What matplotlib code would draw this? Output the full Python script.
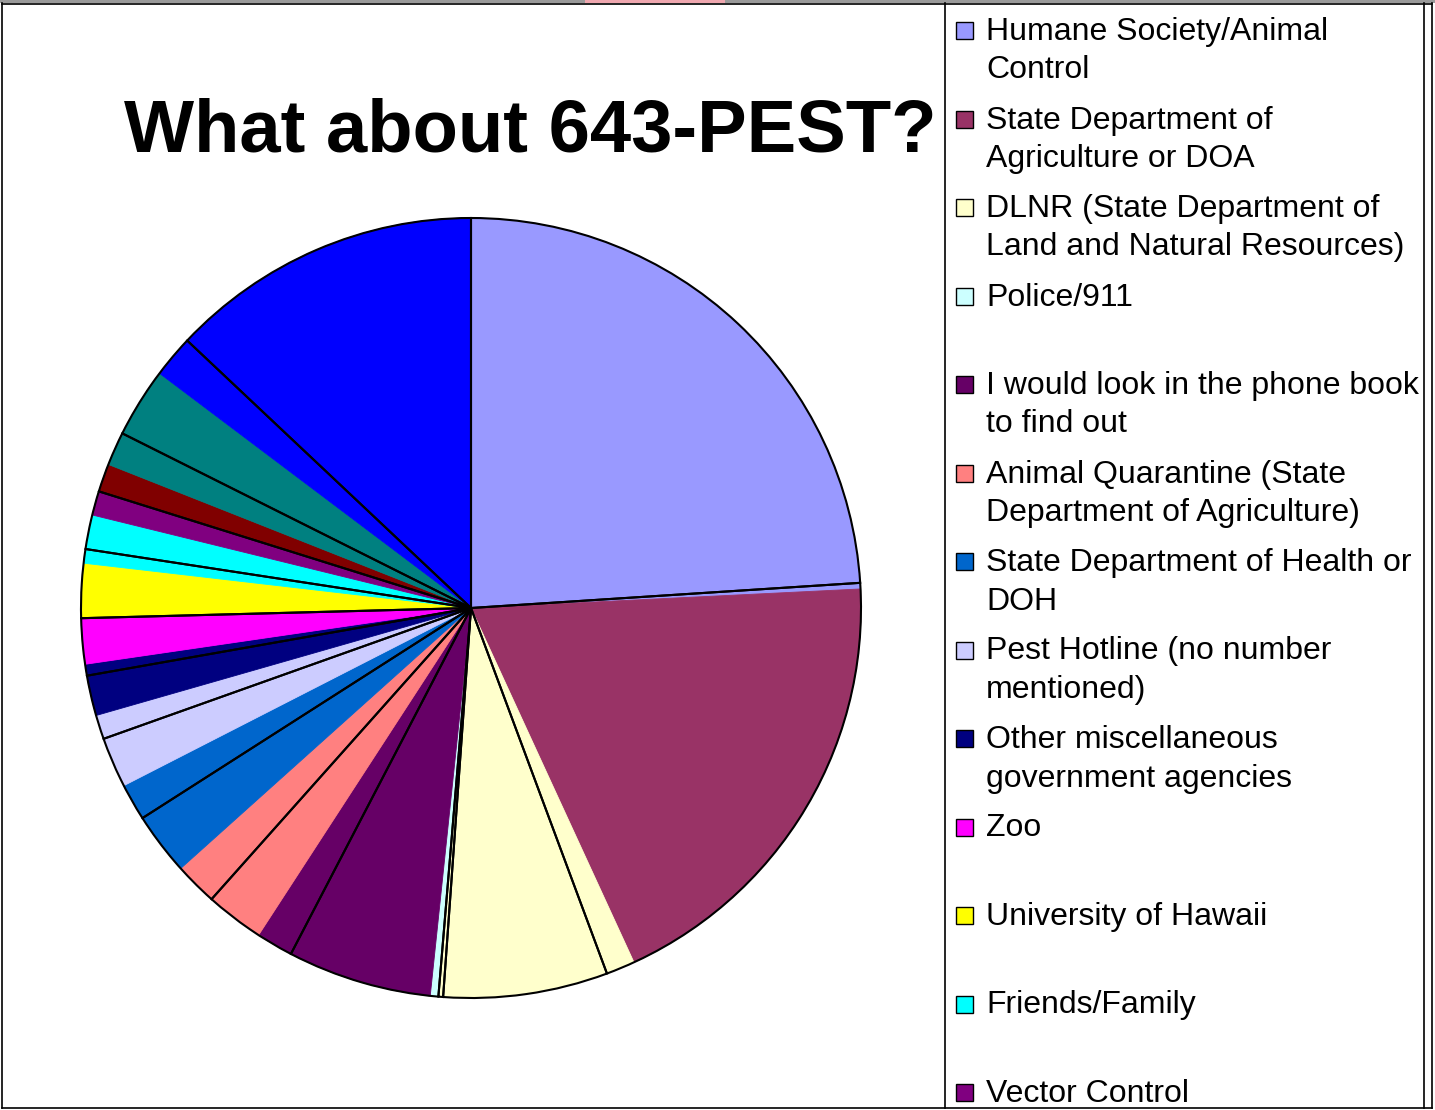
import matplotlib
matplotlib.use("Agg")
import matplotlib.pyplot as plt
from matplotlib.patches import Rectangle

# ---- data -------------------------------------------------------------
categories = [
    "Humane Society/Animal\nControl",
    "State Department of\nAgriculture or DOA",
    "DLNR (State Department of\nLand and Natural Resources)",
    "Police/911",
    "I would look in the phone book\nto find out",
    "Animal Quarantine (State\nDepartment of Agriculture)",
    "State Department of Health or\nDOH",
    "Pest Hotline (no number\nmentioned)",
    "Other miscellaneous\ngovernment agencies",
    "Zoo",
    "University of Hawaii",
    "Friends/Family",
    "Vector Control",
]

# filled wedges, clockwise from 12 o'clock
slice_values = [87.2, 68.1, 29.7, 1.0, 27.0, 15.1, 14.8, 11.1,
                7.7, 6.8, 8.1, 7.2, 3.6, 4.2, 15.4, 53.0]

# black wedge borders, clockwise from 12 o'clock
border_values = [86.3, 73.3, 24.5, 0.7, 22.7, 14.2, 15.7, 13.0,
                 9.6, 8.5, 10.2, 8.7, 9.2, 16.7, 46.7]

slice_colors = ["#9999FF", "#993366", "#FFFFCC", "#CCFFFF", "#660066",
                "#FF8080", "#0066CC", "#CCCCFF", "#000080", "#FF00FF",
                "#FFFF00", "#00FFFF", "#800080", "#800000", "#008080",
                "#0000FF"]

title = "What about 643-PEST?"

# ---- figure -----------------------------------------------------------
W, H = 1435, 1110
fig = plt.figure(figsize=(W / 100, H / 100), dpi=100)
fig.patch.set_facecolor("white")

cx, cy, r = 471, 608, 390
ax = fig.add_axes([(cx - r) / W, (H - cy - r) / H, 2 * r / W, 2 * r / H])

wedges, _ = ax.pie(slice_values, colors=slice_colors, startangle=90,
                   counterclock=False, wedgeprops=dict(linewidth=0.6))
for w in wedges:
    w.set_edgecolor(w.get_facecolor())

ax.pie(border_values, startangle=90, counterclock=False,
       wedgeprops=dict(fill=False, edgecolor="black", linewidth=1.5))
ax.set_xlim(-1.0, 1.0)
ax.set_ylim(-1.0, 1.0)
ax.set_aspect("equal")
ax.axis("off")

# overlay in pixel coordinates for title, frame and legend
ov = fig.add_axes([0, 0, 1, 1], facecolor="none")
ov.set_xlim(0, W)
ov.set_ylim(H, 0)
ov.axis("off")

ov.text(530, 151, title, ha="center", va="baseline",
        fontsize=53.5, fontweight="bold", family="Liberation Sans",
        color="black")

# outer frame
ov.add_patch(Rectangle((0, 0), W, 2.5, facecolor="#9a9a9a", edgecolor="none"))
ov.add_patch(Rectangle((585, 0), 140, 2.5, facecolor="#f0a8b0", edgecolor="none"))
ov.plot([2, 2], [3, 1108], color="black", lw=1.2)
ov.plot([2, 1432], [3.5, 3.5], color="black", lw=1.2)
ov.plot([2, 1432], [1108, 1108], color="black", lw=1.2)
ov.plot([1432, 1432], [3, 1108], color="black", lw=1.2)

# legend box
ov.plot([945, 945], [3, 1108], color="black", lw=1.2)
ov.plot([1424, 1424], [3, 1108], color="black", lw=1.2)

pitch = 88.5
first_baseline = 40
line_gap = 38.5
for i, label in enumerate(categories):
    base = first_baseline + i * pitch
    ov.add_patch(Rectangle((956, base - 18), 17, 17,
                           facecolor=slice_colors[i], edgecolor="black",
                           lw=1.0))
    for j, line in enumerate(label.split("\n")):
        ov.text(986, base + j * line_gap, line, ha="left", va="baseline",
                fontsize=23, family="Liberation Sans", color="black")

fig.savefig("out.png", dpi=100)
